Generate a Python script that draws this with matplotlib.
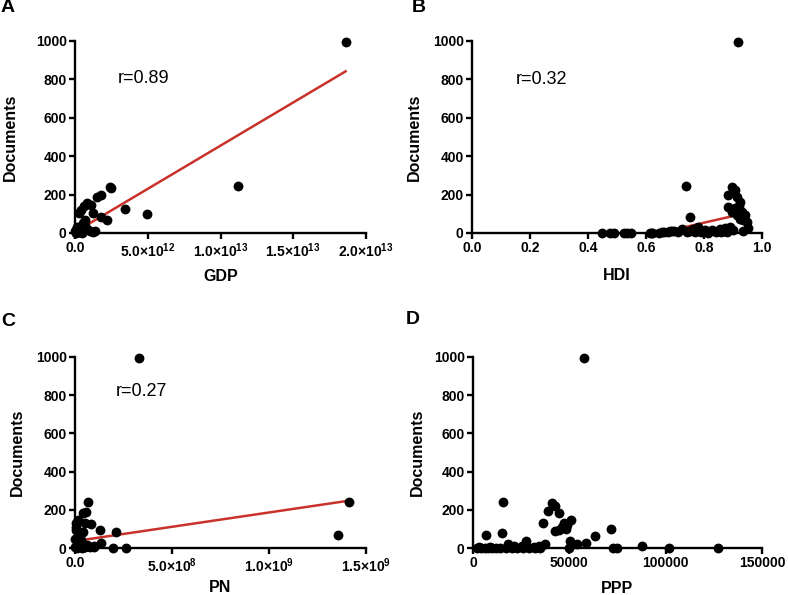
import matplotlib
matplotlib.use('Agg')
import matplotlib.pyplot as plt
import numpy as np

plt.rcParams['font.family'] = ['Liberation Sans', 'DejaVu Sans']
plt.rcParams['mathtext.fontset'] = 'custom'
plt.rcParams['mathtext.rm'] = 'Liberation Sans:bold'
plt.rcParams['mathtext.bf'] = 'Liberation Sans:bold'

# ---- A: GDP vs documents
gdp = [1.86e13, 1.12e13, 4.92e12, 3.47e12, 2.50e12, 2.43e12, 1.81e12, 1.54e12,
       2.23e12, 1.77e12, 1.12e12, 1.24e12, 0.85e12, 0.62e12, 0.43e12, 0.26e12,
       0.67e12, 0.55e12, 0.09e12, 0.30e12, 0.40e12, 0.80e12, 1.00e12, 0.0,
       0.20e12, 0.50e12, 1.25e12, 0.15e12, 0.70e12, 0.35e12, 0.05e12, 1.40e12]
gdp_docs = [993, 243, 99, 125, 233, 240, 198, 189,
            68, 85, 146, 106, 155, 141, 120, 103,
            68, 52, 16, 27, 9, 21, 9, 9,
            3, 2, 5, 30, 35, 12, 0, 8]
gdp_fit = (4.5e-11, 5.0)   # slope, intercept
gdp_r = "r=0.89"

# ---- B: HDI vs documents
hdi = [0.917, 0.737, 0.752, 0.895, 0.907, 0.884, 0.913, 0.924, 0.922, 0.884,
       0.907, 0.930, 0.941, 0.895, 0.913, 0.936, 0.947, 0.924, 0.950, 0.890,
       0.901, 0.872, 0.614, 0.620, 0.654, 0.677, 0.689, 0.723, 0.763, 0.780,
       0.803, 0.826, 0.855, 0.448, 0.475, 0.488, 0.523, 0.534, 0.548, 0.621,
       0.644, 0.663, 0.682, 0.695, 0.710, 0.740, 0.750, 0.770, 0.790, 0.815,
       0.840, 0.860, 0.870, 0.880, 0.935, 0.745, 0.795]
hdi_docs = [993, 245, 85, 241, 224, 198, 189, 163, 141, 137,
            128, 111, 94, 111, 94, 68, 59, 72, 24, 33,
            16, 24, 0, 0, 7, 7, 12, 19, 19, 30,
            16, 16, 19, 0, 0, 0, 0, 0, 0, 0,
            2, 4, 8, 10, 3, 5, 8, 4, 6, 2,
            5, 3, 8, 4, 10, 12, 10]
hdi_fit = (347.0, -224.0)
hdi_r = "r=0.32"

# ---- C: PN vs documents
pn = [3.32e8, 1.414e9, 1.354e9, 6.7e7, 5.8e7, 4.1e7, 1.5e7, 0.7e7, 5.0e7, 8.4e7,
      4.1e7, 0.7e7, 1.27e8, 2.13e8, 1.36e8, 0.98e8, 1.96e8, 2.64e8, 1.0e8, 1.5e7,
      3.0e7, 2.0e7, 5.0e7, 6.0e7, 0.2e7, 1.0e7, 3.5e7, 4.5e7, 7.5e7, 0.4e7,
      2.5e7, 0.1e7]
pn_docs = [993, 242, 68, 239, 190, 182, 147, 129, 129, 126,
           85, 96, 94, 82, 24, 10, 0, 0, 7, 59,
           42, 16, 7, 16, 3, 0, 2, 5, 3, 110,
           25, 45]
pn_fit = (1.5e-7, 36.0)
pn_r = "r=0.27"

# ---- D: PPP vs documents
ppp = [57771, 15570, 15250, 6680, 41260, 42640, 38700, 44690, 36470, 50700,
       47260, 48970, 46400, 42640, 44690, 48100, 71760, 63540, 50190, 54100,
       58710, 87480, 72430, 74650, 50000, 27580, 18140, 37500, 25520, 31680,
       2000, 4000, 6000, 8000, 10000, 12000, 14000, 17000, 20000, 23000,
       26000, 29000, 32000, 35000, 101829, 127200, 3000, 9000, 21500, 34000]
ppp_docs = [993, 242, 80, 68, 237, 220, 195, 185, 133, 147,
            129, 120, 108, 91, 94, 98, 99, 63, 37, 21,
            24, 10, 0, 0, 0, 37, 21, 21, 10, 6,
            0, 0, 0, 0, 0, 0, 0, 0, 0, 0,
            0, 0, 0, 0, 0, 0, 4, 3, 8, 12]

red = '#c9322a'
tick_fs = 10
label_fs = 11.5

fig = plt.figure(figsize=(7.88, 5.95), dpi=100)
W, H = 788.0, 595.0

def make_ax(l, r, t, b):
    return fig.add_axes([l / W, 1 - b / H, (r - l) / W, (b - t) / H])

def style(ax, xmax, xticks, xticklabels, xlabel, ylab_x, xlab_y):
    ax.set_xlim(0, xmax)
    ax.set_ylim(0, 1000)
    for s in ['top', 'right']:
        ax.spines[s].set_visible(False)
    for s in ['left', 'bottom']:
        ax.spines[s].set_linewidth(1.7)
    ax.set_yticks([0, 200, 400, 600, 800, 1000])
    ax.set_xticks(xticks)
    ax.set_xticklabels(xticklabels)
    ax.tick_params(direction='out', length=4, width=1.7, labelsize=tick_fs, pad=2)
    for lab in ax.get_xticklabels() + ax.get_yticklabels():
        lab.set_fontweight('bold')
    ax.set_ylabel('Documents', fontsize=label_fs, fontweight='bold')
    ax.set_xlabel(xlabel, fontsize=label_fs, fontweight='bold')
    ax.yaxis.set_label_coords(ylab_x, 0.5)
    ax.xaxis.set_label_coords(0.5, xlab_y)

def scatter(ax, x, y):
    ax.scatter(x, y, s=50, color='black', zorder=3, clip_on=False, linewidths=0)

def fit_line(ax, x, fit):
    xs = np.array([min(x), max(x)])
    ax.plot(xs, fit[0] * xs + fit[1], color=red, lw=1.8, zorder=2)

# A
axA = make_ax(75, 366, 41, 233)
fit_line(axA, gdp, gdp_fit)
scatter(axA, gdp, gdp_docs)
style(axA, 2e13, [0, 5e12, 1e13, 1.5e13, 2e13],
      ['0.0', r'$5.0{\times}10^{12}$', r'$1.0{\times}10^{13}$',
       r'$1.5{\times}10^{13}$', r'$2.0{\times}10^{13}$'],
      'GDP', -0.196, -0.19)
axA.text(0.237, 0.807, gdp_r, transform=axA.transAxes, fontsize=13,
         ha='center', va='center')

# B
axB = make_ax(472, 762, 41, 233)
fit_line(axB, hdi, hdi_fit)
scatter(axB, hdi, hdi_docs)
style(axB, 1.0, [0, 0.2, 0.4, 0.6, 0.8, 1.0],
      ['0.0', '0.2', '0.4', '0.6', '0.8', '1.0'], 'HDI', -0.172, -0.18)
axB.text(0.241, 0.802, hdi_r, transform=axB.transAxes, fontsize=13,
         ha='center', va='center')

# C
axC = make_ax(75, 366, 357, 548)
fit_line(axC, pn, pn_fit)
scatter(axC, pn, pn_docs)
style(axC, 1.5e9, [0, 5e8, 1e9, 1.5e9],
      ['0.0', r'$5.0{\times}10^{8}$', r'$1.0{\times}10^{9}$', r'$1.5{\times}10^{9}$'],
      'PN', -0.172, -0.17)
axC.text(0.23, 0.817, pn_r, transform=axC.transAxes, fontsize=13,
         ha='center', va='center')

# D
axD = make_ax(473, 762, 357, 548)
scatter(axD, ppp, ppp_docs)
style(axD, 150000, [0, 50000, 100000, 150000],
      ['0', '50000', '100000', '150000'], 'PPP', -0.168, -0.175)

for letter, x, y in [('A', 8, 8), ('B', 419, 8), ('C', 8, 322), ('D', 413, 320)]:
    fig.text(x / W, 1 - y / H, letter, fontsize=14, fontweight='heavy',
             ha='center', va='center')

fig.savefig('out.png', dpi=100)
